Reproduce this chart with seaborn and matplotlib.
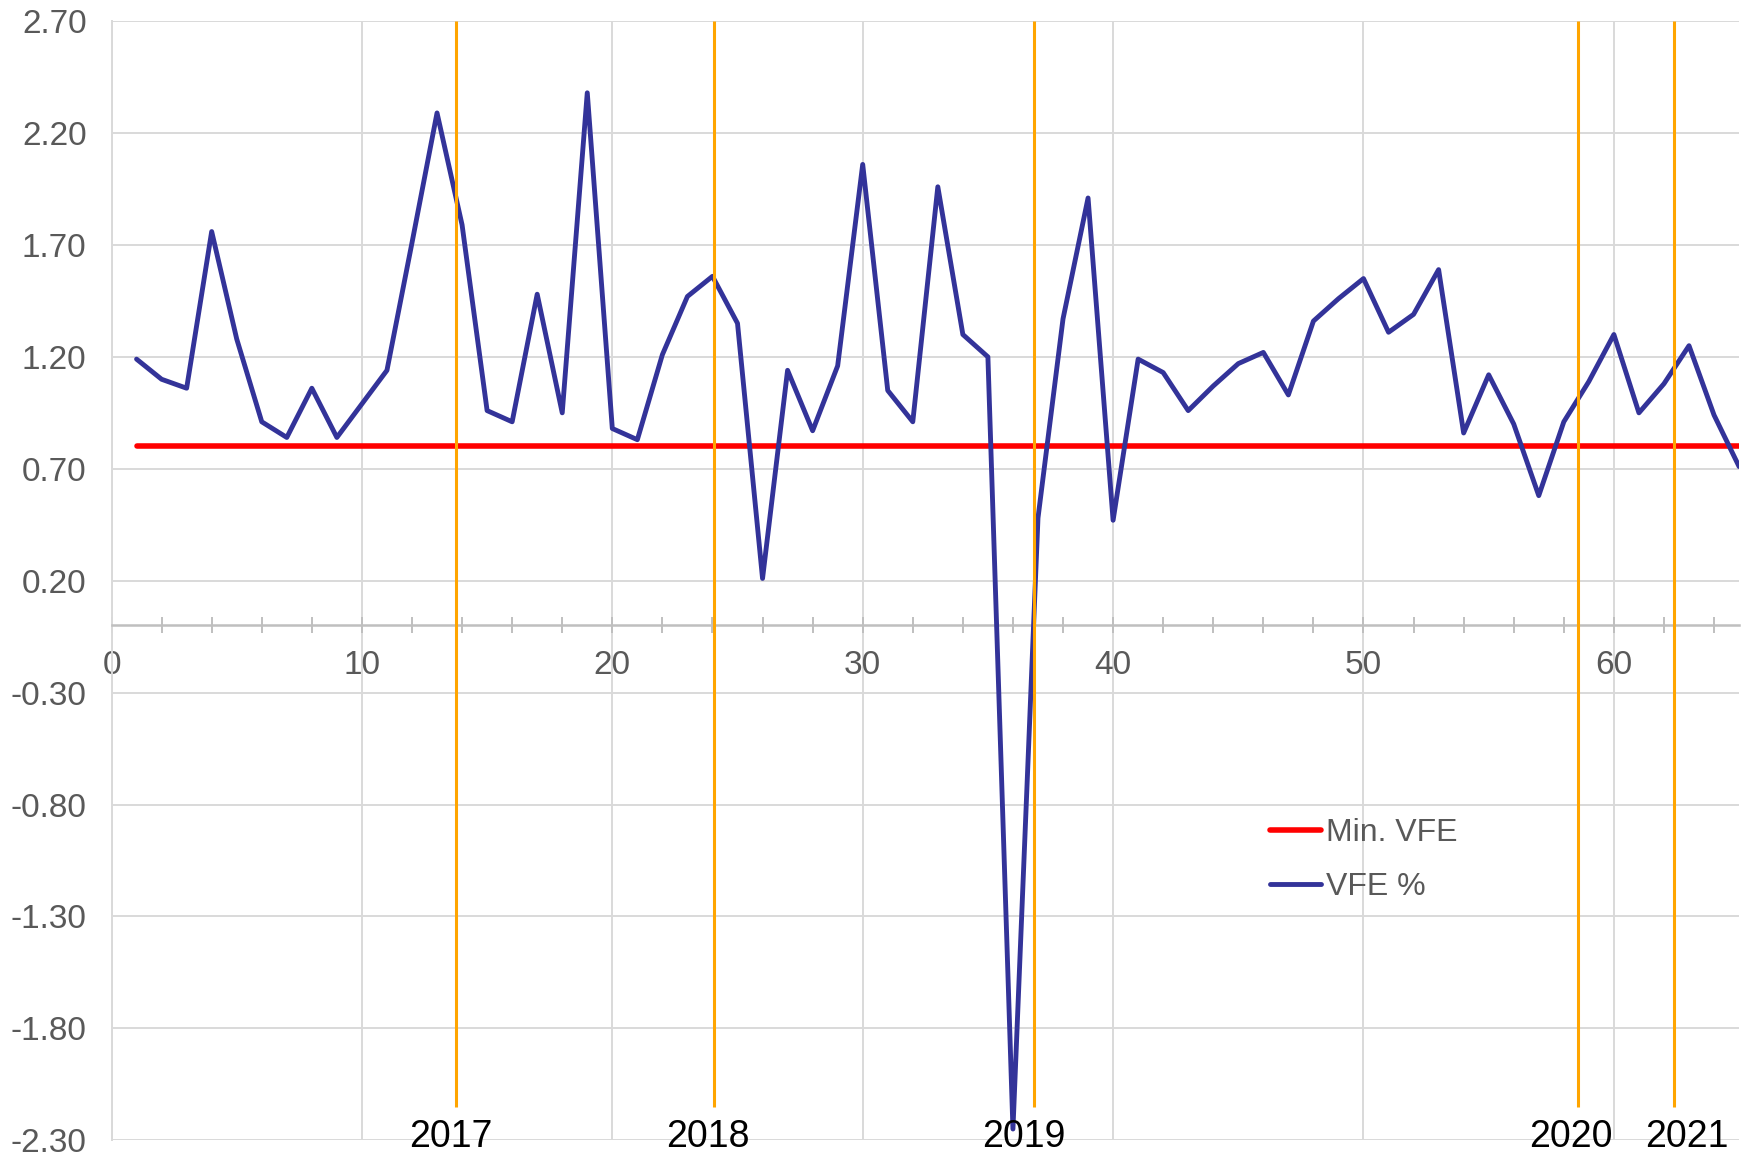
import pandas as pd
import matplotlib
matplotlib.use("Agg")
import matplotlib.pyplot as plt
import seaborn as sns

# Data
periods = list(range(1, 66))
vfe_pct = [1.19, 1.10, 1.06, 1.76, 1.28, 0.91, 0.84, 1.06, 0.84, 0.99,
           1.14, 1.71, 2.29, 1.79, 0.96, 0.91, 1.48, 0.95, 2.38, 0.88,
           0.83, 1.21, 1.47, 1.56, 1.35, 0.21, 1.14, 0.87, 1.16, 2.06,
           1.05, 0.91, 1.96, 1.30, 1.20, -2.25, 0.48, 1.37, 1.91, 0.47,
           1.19, 1.13, 0.96, 1.07, 1.17, 1.22, 1.03, 1.36, 1.46, 1.55,
           1.31, 1.39, 1.59, 0.86, 1.12, 0.90, 0.58, 0.91, 1.09, 1.30,
           0.95, 1.08, 1.25, 0.94, 0.71]
min_vfe = [0.80] * len(periods)

year_labels = ["2017", "2018", "2019", "2020", "2021"]
year_lines = [13.75, 24.05, 36.85, 58.55, 62.4]
year_text_x = [13.55, 23.8, 36.45, 58.3, 62.9]

y_ticks = [-2.30, -1.80, -1.30, -0.80, -0.30, 0.20, 0.70, 1.20, 1.70, 2.20, 2.70]
x_major = [0, 10, 20, 30, 40, 50, 60]
x_minor = list(range(0, 66, 2))

df_vfe = pd.DataFrame({"Period": periods, "Value": vfe_pct})
df_min = pd.DataFrame({"Period": periods, "Value": min_vfe})

sns.set_style("white")
plt.rcParams["font.family"] = ["Liberation Sans", "DejaVu Sans"]

fig = plt.figure(figsize=(17.48, 11.57), dpi=100)
ax = fig.add_axes([0.0638, 0.0145, 0.9311, 0.9672])

sns.lineplot(data=df_min, x="Period", y="Value", color="#FF0000", linewidth=4.0,
             label="Min. VFE", ax=ax, zorder=3, solid_capstyle="round")
sns.lineplot(data=df_vfe, x="Period", y="Value", color="#333399", linewidth=3.5,
             label="VFE %", ax=ax, zorder=4, solid_capstyle="round",
             solid_joinstyle="round")

# year markers
ax.vlines(year_lines, -2.15, 2.70, color="#FFA500", linewidth=2.2, zorder=5)
for xt, lab in zip(year_text_x, year_labels):
    ax.text(xt, -2.33, lab, ha="center", va="baseline", fontsize=27,
            color="black", clip_on=False, zorder=6)

ax.set_xlim(0, 65)
ax.set_ylim(-2.30, 2.70)
ax.set_yticks(y_ticks)
ax.set_yticklabels([f"{v:.2f}" for v in y_ticks])
ax.set_xticks(x_major)
ax.set_xticklabels([str(v) for v in x_major])
ax.set_xticks(x_minor, minor=True)
ax.set_xlabel("")
ax.set_ylabel("")

ax.grid(axis="y", color="#D9D9D9", linewidth=1.4)
ax.grid(axis="x", which="major", color="#D9D9D9", linewidth=1.4)
ax.set_axisbelow(True)

for s in ["top", "right"]:
    ax.spines[s].set_visible(False)
ax.spines["left"].set_color("#D9D9D9")
ax.spines["left"].set_linewidth(1.4)
ax.spines["bottom"].set_position(("data", 0))
ax.spines["bottom"].set_color("#BFBFBF")
ax.spines["bottom"].set_linewidth(1.8)

ax.tick_params(axis="x", which="both", bottom=True, direction="inout", length=11,
               width=1.4, color="#BFBFBF", labelsize=24, labelcolor="#595959", pad=12)
ax.tick_params(axis="y", length=0, labelsize=24, labelcolor="#595959", pad=18)

leg = ax.legend(loc="upper left", bbox_to_anchor=(0.712, 0.288), frameon=False,
                fontsize=23, handlelength=1.6, handletextpad=0.15,
                labelspacing=0.75, borderpad=0, borderaxespad=0)
for t in leg.get_texts():
    t.set_color("#595959")
for h in leg.get_lines():
    h.set_solid_capstyle("round")

plt.savefig("out.png", dpi=100)
